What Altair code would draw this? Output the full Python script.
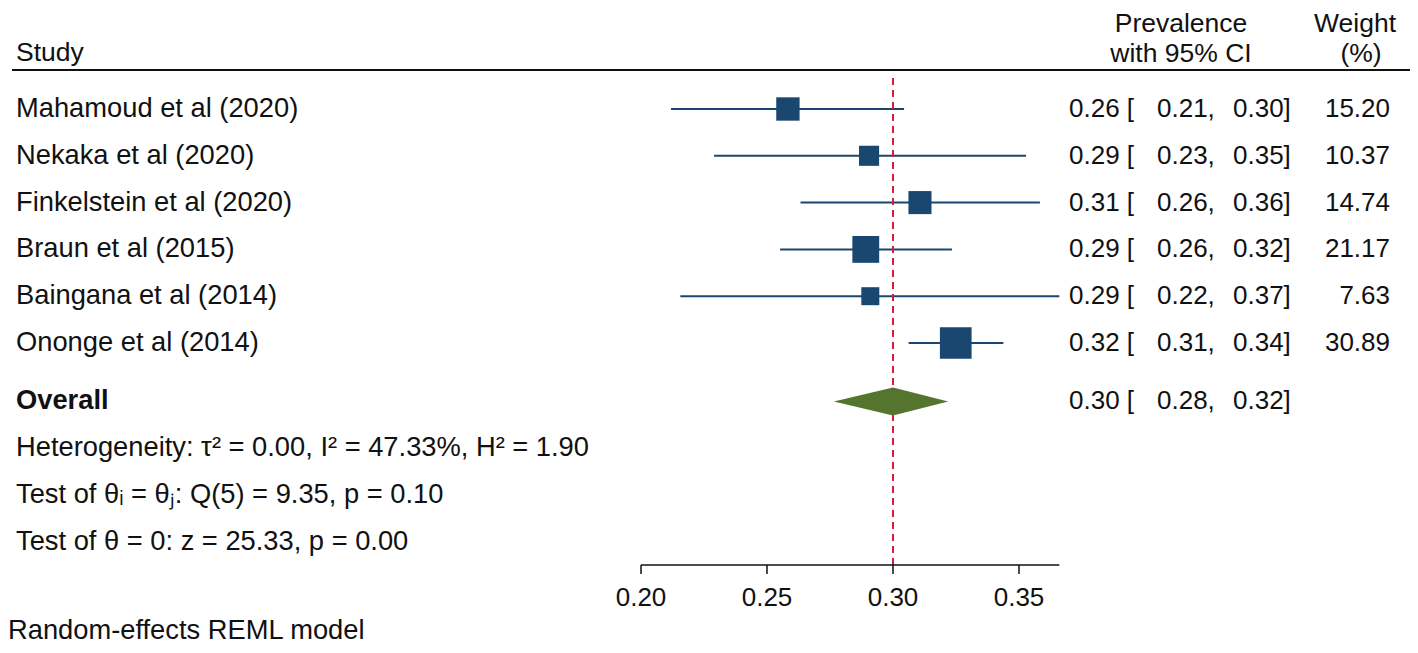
import altair as alt
import pandas as pd

# ---------------- data ----------------
studies = ["Mahamoud et al (2020)", "Nekaka et al (2020)", "Finkelstein et al (2020)",
           "Braun et al (2015)", "Baingana et al (2014)", "Ononge et al (2014)"]
est = [0.2583, 0.2905, 0.3107, 0.2892, 0.2910, 0.3249]
lower = [0.2119, 0.2290, 0.2633, 0.2552, 0.2156, 0.3062]
upper = [0.3044, 0.3528, 0.3583, 0.3234, 0.3660, 0.3438]
weights = [15.20, 10.37, 14.74, 21.17, 7.63, 30.89]
est_lbl = ["0.26", "0.29", "0.31", "0.29", "0.29", "0.32"]
lo_lbl = ["0.21", "0.23", "0.26", "0.26", "0.22", "0.31"]
hi_lbl = ["0.30", "0.35", "0.36", "0.32", "0.37", "0.34"]
w_lbl = ["15.20", "10.37", "14.74", "21.17", "7.63", "30.89"]
rows = [1, 2, 3, 4, 5, 6]

overall_label = "Overall"
overall_est = 0.300
overall_lo = 0.2765
overall_hi = 0.3219
overall_lbls = ["0.30", "0.28", "0.32"]
overall_row = 7.25

stats_text = [
    "Heterogeneity: \u03c4\u00b2 = 0.00, I\u00b2 = 47.33%, H\u00b2 = 1.90",
    "Test of \u03b8\u1d62 = \u03b8\u2c7c: Q(5) = 9.35, p = 0.10",
    "Test of \u03b8 = 0: z = 25.33, p = 0.00",
]
stats_rows = [8.25, 9.25, 10.25]

ticks = [0.20, 0.25, 0.30, 0.35]
tick_labels = ["0.20", "0.25", "0.30", "0.35"]
footer = "Random-effects REML model"

# ---------------- tables ----------------
df = pd.DataFrame({
    "study": studies, "est": est, "lower": lower, "upper": upper,
    "weight": weights, "row": rows,
    "est_txt": [e + " [" for e in est_lbl],
    "lo_txt": [l + "," for l in lo_lbl],
    "hi_txt": [h + "]" for h in hi_lbl],
    "w_txt": w_lbl,
})
ov = pd.DataFrame({
    "x": [overall_lo, overall_est, overall_hi],
    "y": [overall_row, overall_row - 0.30, overall_row],
    "y2": [overall_row, overall_row + 0.30, overall_row],
})
ov_txt = pd.DataFrame({
    "label": [overall_label], "row": [overall_row],
    "est_txt": [overall_lbls[0] + " ["], "lo_txt": [overall_lbls[1] + ","],
    "hi_txt": [overall_lbls[2] + "]"],
})
st = pd.DataFrame({"text": stats_text, "row": stats_rows})
tk = pd.DataFrame({"tick": ticks, "label": tick_labels})
ax = pd.DataFrame({"start": [ticks[0]], "end": [max(upper)]})
ref = pd.DataFrame({"ref": [overall_est]})

# ---------------- scales & style ----------------
W, H = 1402, 637
XS = alt.Scale(domain=[-0.05119, 0.50516], nice=False, zero=False)
YS = alt.Scale(domain=[-1.158, 12.453], reverse=True, nice=False, zero=False)
FONT = "Liberation Sans"
FS_NUM = 26
FS_LBL = 27.3
FS_HDR = 26.5
TXT = "#111111"
NAVY = "#1a476f"
GREEN = "#55752f"
RED = "#d01c47"

def tx(fs=FS_NUM, **kw):
    base = dict(font=FONT, fontSize=fs, color=TXT)
    base.update(kw)
    return base

base = alt.Chart(df)
Yrow = alt.Y("row:Q", scale=YS, axis=None)

ci = base.mark_rule(color=NAVY, strokeWidth=2).encode(
    x=alt.X("lower:Q", scale=XS, axis=None),
    x2="upper:Q",
    y=Yrow,
)

dash = alt.Chart(ref).mark_rule(color=RED, strokeWidth=2, strokeDash=[7, 5]).encode(
    x=alt.X("ref:Q", scale=XS, axis=None),
    y=alt.value(70), y2=alt.value(557),
)

squares = base.mark_square(color=NAVY, opacity=1, filled=True).encode(
    x=alt.X("est:Q", scale=XS, axis=None),
    y=Yrow,
    size=alt.Size("weight:Q", scale=alt.Scale(domain=[0, 30.89], range=[100, 1005], zero=False), legend=None),
)

diamond = alt.Chart(ov).mark_area(color=GREEN, opacity=1).encode(
    x=alt.X("x:Q", scale=XS, axis=None),
    y=alt.Y("y:Q", scale=YS, axis=None),
    y2="y2:Q",
)

study_txt = base.mark_text(**tx(FS_LBL, align="left", baseline="middle")).encode(
    x=alt.value(8), y=Yrow, text="study:N")
est_t = base.mark_text(**tx(align="left", baseline="middle")).encode(
    x=alt.value(1061), y=Yrow, text="est_txt:N")
lo_t = base.mark_text(**tx(align="left", baseline="middle")).encode(
    x=alt.value(1149), y=Yrow, text="lo_txt:N")
hi_t = base.mark_text(**tx(align="left", baseline="middle")).encode(
    x=alt.value(1225), y=Yrow, text="hi_txt:N")
w_t = base.mark_text(**tx(align="right", baseline="middle")).encode(
    x=alt.value(1382), y=Yrow, text="w_txt:N")

ovb = alt.Chart(ov_txt)
ov_label = ovb.mark_text(**tx(FS_LBL, align="left", baseline="middle", fontWeight="bold")).encode(
    x=alt.value(8), y=Yrow, text="label:N")
ov_est = ovb.mark_text(**tx(align="left", baseline="middle")).encode(
    x=alt.value(1061), y=Yrow, text="est_txt:N")
ov_lo = ovb.mark_text(**tx(align="left", baseline="middle")).encode(
    x=alt.value(1149), y=Yrow, text="lo_txt:N")
ov_hi = ovb.mark_text(**tx(align="left", baseline="middle")).encode(
    x=alt.value(1225), y=Yrow, text="hi_txt:N")

stats = alt.Chart(st).mark_text(**tx(FS_LBL, align="left", baseline="middle")).encode(
    x=alt.value(8), y=Yrow, text="text:N")

axis_line = alt.Chart(ax).mark_rule(color=TXT, strokeWidth=1.5).encode(
    x=alt.X("start:Q", scale=XS, axis=None), x2="end:Q", y=alt.value(557))
tick_marks = alt.Chart(tk).mark_rule(color=TXT, strokeWidth=1.5).encode(
    x=alt.X("tick:Q", scale=XS, axis=None), y=alt.value(557), y2=alt.value(566))
tick_txt = alt.Chart(tk).mark_text(**tx(align="center", baseline="middle")).encode(
    x=alt.X("tick:Q", scale=XS, axis=None), y=alt.value(590), text="label:N")

hdr = pd.DataFrame({"a": [0]})
hb = alt.Chart(hdr)
h_study = hb.mark_text(**tx(FS_HDR, align="left", baseline="alphabetic", text="Study")).encode(
    x=alt.value(8), y=alt.value(53))
h_prev = hb.mark_text(**tx(FS_HDR, align="center", baseline="alphabetic", text="Prevalence")).encode(
    x=alt.value(1173), y=alt.value(24))
h_ci = hb.mark_text(**tx(FS_HDR, align="center", baseline="alphabetic", text="with 95% CI")).encode(
    x=alt.value(1173), y=alt.value(54))
h_w = hb.mark_text(**tx(FS_HDR, align="center", baseline="alphabetic", text="Weight")).encode(
    x=alt.value(1347), y=alt.value(24))
h_pct = hb.mark_text(**tx(FS_HDR, align="center", baseline="alphabetic", text="(%)")).encode(
    x=alt.value(1353), y=alt.value(54))
h_line = hb.mark_rule(color=TXT, strokeWidth=2).encode(
    x=alt.value(4), x2=alt.value(1402), y=alt.value(62))
foot = hb.mark_text(**tx(FS_LBL, align="left", baseline="alphabetic", text=footer)).encode(
    x=alt.value(0), y=alt.value(631))

chart = alt.layer(
    ci, dash, squares, diamond,
    study_txt, est_t, lo_t, hi_t, w_t,
    ov_label, ov_est, ov_lo, ov_hi,
    stats, axis_line, tick_marks, tick_txt,
    h_study, h_prev, h_ci, h_w, h_pct, h_line, foot,
).properties(
    width=W, height=H,
    autosize=alt.AutoSizeParams(type="none"),
    padding=0,
).configure(
    background="white",
    view=alt.ViewConfig(strokeWidth=0, stroke="transparent"),
)

chart.save("out.html", embed_options={"renderer": "svg", "actions": False})
